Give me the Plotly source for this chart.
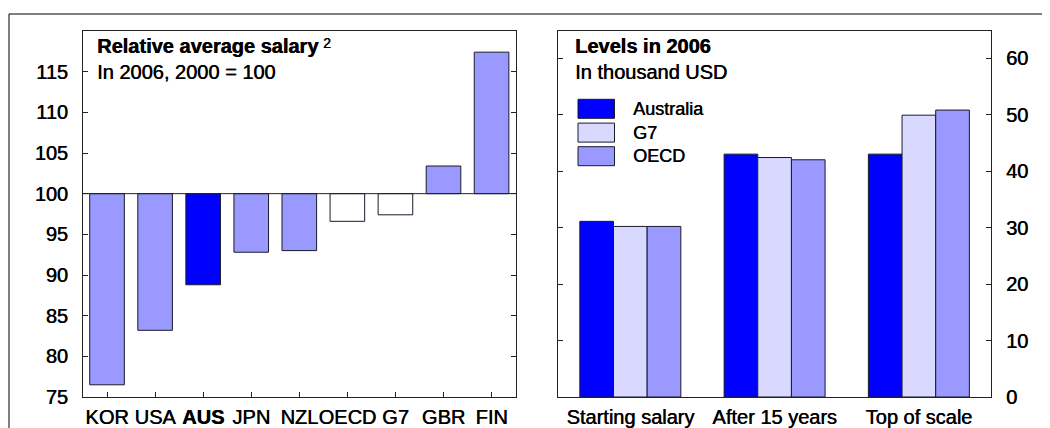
import plotly.graph_objects as go

# ---------------- data ----------------
countries = ["KOR", "USA", "AUS", "JPN", "NZL", "OECD", "G7", "GBR", "FIN"]
relative_salary = [76.5, 83.2, 88.8, 92.8, 93.0, 96.6, 97.4, 103.4, 117.4]
base_value = 100

levels_categories = ["Starting salary", "After 15 years", "Top of scale"]
series_names = ["Australia", "G7", "OECD"]
australia_levels = [31.1, 43.0, 43.0]
g7_levels = [30.2, 42.4, 49.9]
oecd_levels = [30.2, 42.0, 50.8]

left_ticks = [75, 80, 85, 90, 95, 100, 105, 110, 115]
right_ticks = [0, 10, 20, 30, 40, 50, 60]

# ---------------- styles ----------------
C_AUS = "#0000FF"
C_G7 = "#D9D9FF"
C_OECD = "#9999FF"
country_colors = {"AUS": C_AUS, "OECD": "#FFFFFF", "G7": "#FFFFFF"}
bar_colors = [country_colors.get(c, C_OECD) for c in countries]
series_colors = [C_AUS, C_G7, C_OECD]
FONT = "Liberation Sans, Arial, sans-serif"
SHADOW = "0.5px 0px 0px black"
EDGE = "#1a1a2a"
AX = "#222222"

W, H = 1050, 428
OFF = 8  # page body margin
# target screen positions of plot area
SCR_L, SCR_R, SCR_T, SCR_B = 83, 991, 31, 397
ML = SCR_L - OFF
MT = SCR_T - OFF
MR = W - (SCR_R - OFF)
MB = H - (SCR_B - OFF)
PW, PH = W - ML - MR, H - MT - MB


def px(x):
    """screen x -> paper"""
    return (x - OFF - ML) / PW


def py(y):
    """screen y -> paper"""
    return (H - MB - (y - OFF)) / PH


def f(size):
    return dict(family=FONT, size=size, color="black", shadow=SHADOW)


fig = go.Figure()

fig.add_trace(go.Bar(
    x=countries,
    y=[v - base_value for v in relative_salary],
    base=base_value,
    width=0.72,
    marker=dict(color=bar_colors, line=dict(color=EDGE, width=1)),
    xaxis="x", yaxis="y", showlegend=False,
))

for name, vals, col in zip(series_names, [australia_levels, g7_levels, oecd_levels], series_colors):
    fig.add_trace(go.Bar(
        x=levels_categories, y=vals, name=name,
        marker=dict(color=col, line=dict(color=EDGE, width=1)),
        xaxis="x2", yaxis="y2", showlegend=False,
    ))

tickfont = f(20)
ticktext_left = ["<b>AUS</b>" if c == "AUS" else c for c in countries]

fig.update_layout(
    width=W, height=H,
    margin=dict(l=ML, r=MR, t=MT, b=MB, autoexpand=False),
    paper_bgcolor="white", plot_bgcolor="white",
    barmode="group", bargap=0.30, bargroupgap=0,
    font=dict(family=FONT, size=20, color="black"),
    xaxis=dict(domain=[0, px(515.6)], type="category",
               tickvals=countries, ticktext=ticktext_left, tickangle=0,
               showline=True, linecolor=AX, linewidth=1, mirror=True,
               ticks="inside", ticklen=5, tickcolor=AX,
               tickfont=tickfont, ticklabelstandoff=2, automargin=False,
               showgrid=False, zeroline=False),
    yaxis=dict(domain=[0, 1], range=[75, 120], tickvals=left_ticks,
               showline=True, linecolor=AX, linewidth=1, mirror="ticks",
               ticks="inside", ticklen=5, tickcolor=AX,
               tickfont=tickfont, ticklabelstandoff=10, automargin=False,
               showgrid=False, zeroline=False),
    xaxis2=dict(domain=[px(558.2), 1], type="category", anchor="y2", tickangle=0,
                showline=True, linecolor=AX, linewidth=1, mirror=True,
                ticks="", tickfont=tickfont, ticklabelstandoff=2, automargin=False,
                showgrid=False, zeroline=False),
    yaxis2=dict(domain=[0, 1], range=[0, 64.8], tickvals=right_ticks, anchor="x2",
                side="right",
                showline=True, linecolor=AX, linewidth=1, mirror="ticks",
                ticks="inside", ticklen=5, tickcolor=AX,
                tickfont=tickfont, ticklabelstandoff=10, automargin=False,
                showgrid=False, zeroline=False),
)

shapes = []
# baseline at 100 in the left panel
shapes.append(dict(type="line", xref="x domain", yref="y", x0=0, x1=1,
                   y0=base_value, y1=base_value, line=dict(color=AX, width=1)))
# outer frame (partially off-canvas)
shapes.append(dict(type="rect", xref="paper", yref="paper",
                   x0=px(9), x1=px(1120), y0=py(480), y1=py(14),
                   line=dict(color="black", width=1), fillcolor="rgba(0,0,0,0)", layer="below"))

annotations = [
    dict(xref="paper", yref="paper", x=px(95), y=py(46), xanchor="left", yanchor="middle",
         text="<b>Relative average salary</b>", showarrow=False, font=f(20)),
    dict(xref="paper", yref="paper", x=px(321), y=py(43), xanchor="left", yanchor="middle",
         text="2", showarrow=False, font=f(14)),
    dict(xref="paper", yref="paper", x=px(95), y=py(72), xanchor="left", yanchor="middle",
         text="In 2006, 2000 = 100", showarrow=False, font=f(20)),
    dict(xref="paper", yref="paper", x=px(573), y=py(46), xanchor="left", yanchor="middle",
         text="<b>Levels in 2006</b>", showarrow=False, font=f(20)),
    dict(xref="paper", yref="paper", x=px(573), y=py(72), xanchor="left", yanchor="middle",
         text="In thousand USD", showarrow=False, font=f(20)),
]

# manual legend
leg_y = [108.8, 132.6, 156.2]
for name, col, yc in zip(series_names, series_colors, leg_y):
    shapes.append(dict(type="rect", xref="paper", yref="paper",
                       x0=px(578), x1=px(614.5), y0=py(yc + 9.5), y1=py(yc - 9.5),
                       fillcolor=col, line=dict(color=EDGE, width=1)))
    annotations.append(dict(xref="paper", yref="paper", x=px(631), y=py(yc),
                            xanchor="left", yanchor="middle", text=name, showarrow=False,
                            font=f(18)))

fig.update_layout(shapes=shapes, annotations=annotations)

fig.write_html("out.html")
